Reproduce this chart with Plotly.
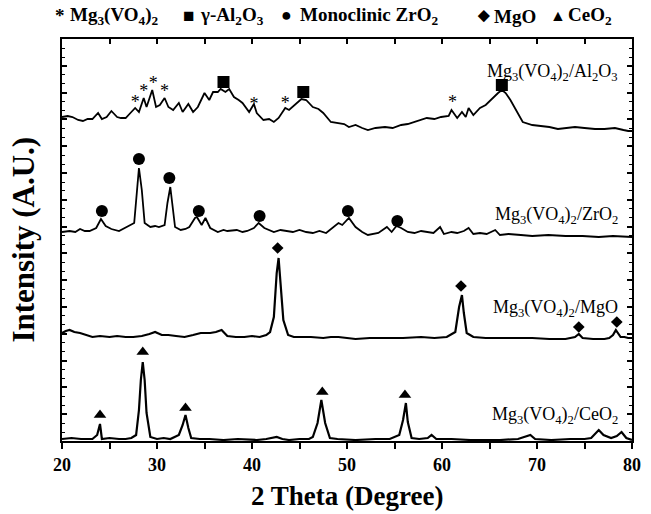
import plotly.graph_objects as go

# ---------------- data (2theta in degrees, intensity in arbitrary units) ----------------
al_x = [20.0, 20.6, 21.1, 21.7, 22.2, 22.7, 23.2, 23.8, 24.2, 24.7, 25.2, 25.8, 26.2, 26.7, 27.2, 27.7, 28.1, 28.6, 28.9,
        29.5, 29.9, 30.3, 30.8, 31.2, 31.7, 32.3, 32.7, 33.3, 33.8, 34.3, 35.0, 35.5, 35.9, 36.4, 36.7, 37.2, 37.6,
        38.1, 38.6, 39.0, 39.7, 40.2, 40.5, 41.2, 41.8, 42.3, 42.8, 43.5, 43.9, 44.5, 45.2, 45.7, 46.4, 47.0, 47.5,
        48.3, 49.1, 49.7, 50.2, 50.9, 51.6, 52.2, 53.0, 54.0, 54.8, 55.7, 56.4, 57.1, 57.8, 58.4, 59.2, 59.9, 60.7,
        61.0, 61.6, 62.1, 62.5, 62.8, 63.3, 64.0, 64.6, 65.1, 65.9, 66.3, 66.7, 67.2, 67.6, 68.1, 68.5, 69.5, 70.4,
        71.3, 72.2, 73.0, 74.0, 75.0, 76.1, 77.1, 78.2, 79.1, 79.6, 80.0]
al_y = [324, 325, 324, 321, 320, 322, 322, 328, 322, 324, 330, 324, 323, 323, 328, 333, 329, 343, 334,
        351, 334, 336, 343, 334, 331, 338, 329, 337, 329, 334, 348, 341, 349, 349, 352, 349, 352,
        344, 341, 338, 329, 337, 328, 321, 322, 319, 323, 333, 331, 336, 342, 341, 334, 332, 328,
        319, 318, 317, 314, 316, 313, 311, 313, 314, 313, 316, 317, 319, 321, 323, 322, 324, 325,
        331, 323, 329, 324, 333, 326, 333, 336, 341, 348, 351, 348, 341, 334, 326, 319, 316, 315,
        314, 312, 313, 314, 313, 312, 312, 313, 311, 310, 310]

zr_x = [20.0, 20.8, 21.4, 21.9, 22.4, 22.9, 23.6, 24.1, 24.6, 25.2, 26.0, 26.8, 27.6, 27.9, 28.1, 28.4, 28.7,
        29.3, 29.8, 30.2, 30.8, 31.1, 31.4, 31.6, 31.9, 32.5, 33.0, 33.4, 34.0, 34.2, 34.7, 35.1, 35.6, 36.4,
        37.0, 37.4, 38.4, 39.0, 39.5, 40.2, 40.7, 41.3, 42.3, 43.0, 43.6, 44.3, 45.0, 45.7, 46.4, 47.1, 47.8,
        48.6, 49.1, 49.5, 50.2, 50.9, 51.6, 52.2, 53.3, 54.2, 54.7, 55.2, 55.7, 56.4, 57.1, 57.8, 58.4, 59.1,
        59.8, 60.2, 61.0, 61.6, 62.3, 62.8, 63.3, 64.0, 64.7, 65.6, 66.1, 67.0, 68.3, 69.5, 71.2, 73.0, 74.8,
        76.5, 78.0, 79.6, 80.0]
zr_y = [209, 210, 209, 212, 210, 210, 213, 222, 215, 212, 210, 214, 218, 251, 273, 251, 218,
        214, 215, 214, 216, 238, 254, 238, 214, 211, 212, 214, 223, 224, 216, 223, 213, 209,
        211, 210, 211, 209, 210, 213, 218, 213, 209, 211, 210, 209, 211, 209, 208, 210, 208,
        214, 218, 216, 223, 214, 209, 206, 208, 214, 209, 215, 213, 209, 208, 210, 209, 208,
        214, 207, 209, 208, 210, 213, 207, 208, 207, 211, 206, 207, 206, 205, 206, 205, 205,
        204, 205, 204, 204]

mg_x = [20.0, 20.4, 20.8, 21.3, 21.9, 22.5, 23.2, 24.0, 25.0, 25.8, 26.7, 27.5, 28.4, 29.2, 29.8, 30.5, 31.2,
        32.0, 32.9, 33.8, 34.6, 35.6, 36.2, 36.8, 37.4, 38.3, 39.2, 40.0, 40.8, 41.5, 41.9, 42.3, 42.6, 42.8,
        43.0, 43.3, 43.8, 44.4, 45.0, 46.2, 47.5, 48.3, 49.1, 50.0, 50.9, 52.4, 54.0, 55.9, 57.8, 59.2, 60.5,
        61.4, 61.8, 62.1, 62.3, 62.6, 63.3, 64.6, 66.1, 67.8, 69.5, 71.3, 73.0, 74.0, 74.4, 74.8, 75.9, 77.1,
        77.6, 78.0, 78.3, 78.8, 79.2, 79.6, 80.0]
mg_y = [108, 110, 111, 109, 108, 106, 104, 105, 104, 105, 104, 104, 105, 107, 109, 106, 106,
        105, 104, 106, 108, 108, 109, 111, 105, 104, 104, 105, 104, 106, 109, 124, 168, 183,
        161, 121, 106, 104, 104, 104, 103, 104, 104, 103, 102, 103, 103, 103, 104, 103, 104,
        109, 134, 146, 128, 108, 104, 103, 103, 103, 103, 102, 102, 104, 107, 103, 102, 102,
        103, 106, 111, 104, 104, 103, 103]

ce_x = [20.0, 21.0, 22.0, 23.2, 23.7, 24.0, 24.2, 25.0, 26.0, 26.7, 27.3, 27.8, 28.1, 28.3, 28.5, 28.7, 28.9,
        29.3, 30.0, 30.7, 31.4, 32.3, 32.7, 33.0, 33.3, 33.6, 34.5, 35.5, 37.0, 38.5, 40.5, 41.5, 42.6, 43.2,
        43.9, 45.0, 46.0, 46.4, 46.9, 47.3, 47.7, 48.2, 49.0, 50.9, 53.0, 54.5, 55.5, 55.9, 56.2, 56.4, 56.8,
        57.6, 58.5, 58.9, 59.4, 61.0, 63.0, 66.1, 68.0, 68.8, 69.3, 69.8, 71.5, 73.5, 75.0, 75.7, 76.5, 77.0,
        77.8, 78.4, 78.9, 79.4, 80.0]
ce_y = [2, 3, 2, 2, 6, 17, 2, 3, 2, 2, 3, 6, 31, 61, 79, 61, 28,
        4, 2, 3, 2, 6, 16, 26, 13, 3, 2, 2, 1, 2, 1, 2, 4, 2,
        1, 2, 2, 4, 18, 41, 18, 3, 2, 1, 2, 2, 6, 21, 38, 19, 3,
        2, 3, 6, 2, 2, 1, 1, 2, 4, 6, 2, 1, 2, 2, 3, 11, 6,
        3, 5, 9, 3, 1]

# phase markers
star_x = [27.7, 28.6, 29.6, 30.8, 40.2, 43.5, 61.1]
star_y = [338, 349, 357, 349, 336, 337, 338]
sq_x = [37.0, 45.4, 66.3]
sq_y = [359, 349, 356]
circ_x = [24.2, 28.1, 31.3, 34.4, 40.8, 50.1, 55.3]
circ_y = [230, 282, 263, 230, 225, 230, 220]
dia_x = [42.7, 62.0, 74.4, 78.4]
dia_y = [193, 155, 114, 119]
tri_x = [24.0, 28.5, 33.0, 47.4, 56.1]
tri_y = [26, 89, 33, 49, 46]

sample_labels = ["Mg<sub>3</sub>(VO<sub>4</sub>)<sub>2</sub>/Al<sub>2</sub>O<sub>3</sub>",
                 "Mg<sub>3</sub>(VO<sub>4</sub>)<sub>2</sub>/ZrO<sub>2</sub>",
                 "Mg<sub>3</sub>(VO<sub>4</sub>)<sub>2</sub>/MgO",
                 "Mg<sub>3</sub>(VO<sub>4</sub>)<sub>2</sub>/CeO<sub>2</sub>"]
label_y = [369, 226, 133, 26]

legend_texts = ["Mg<sub>3</sub>(VO<sub>4</sub>)<sub>2</sub>", "γ-Al<sub>2</sub>O<sub>3</sub>",
                "Monoclinic ZrO<sub>2</sub>", "MgO", "CeO<sub>2</sub>"]
legend_text_px = [69, 201, 303, 500, 575]
legend_glyphs = ["*", "■", "●", "◆", "▲"]
legend_glyph_px = [54, 184, 283, 483, 557]
legend_glyph_size = [19, 19, 18, 15, 16]

xtick_vals = [20, 30, 40, 50, 60, 70, 80]

SERIF = "Liberation Serif"
W, H = 651, 514
ML, MR, MT, MB = 62, 10, 39, 73
PW, PH = W - ML - MR, H - MT - MB

fig = go.Figure()
for xs, ys, lw in [(al_x, al_y, 1.8), (zr_x, zr_y, 1.8), (mg_x, mg_y, 2.2), (ce_x, ce_y, 2.2)]:
    fig.add_trace(go.Scatter(x=xs, y=ys, mode="lines", line=dict(color="black", width=lw),
                             showlegend=False, hoverinfo="skip"))

fig.add_trace(go.Scatter(x=sq_x, y=sq_y, mode="markers", showlegend=False,
                         marker=dict(symbol="square", size=12, color="black", line=dict(width=0))))
fig.add_trace(go.Scatter(x=circ_x, y=circ_y, mode="markers", showlegend=False,
                         marker=dict(symbol="circle", size=12, color="black", line=dict(width=0))))
fig.add_trace(go.Scatter(x=dia_x, y=dia_y, mode="markers", showlegend=False,
                         marker=dict(symbol="diamond", size=9, color="black", line=dict(width=0))))
fig.add_trace(go.Scatter(x=tri_x, y=tri_y, mode="markers", showlegend=False,
                         marker=dict(symbol="triangle-up", size=11, color="black", line=dict(width=0))))
fig.add_trace(go.Scatter(x=star_x, y=star_y, mode="text", text=["*"] * len(star_x),
                         textposition="middle center", showlegend=False,
                         textfont=dict(family=SERIF, size=18, color="black")))
# invisible trace for the top axis
fig.add_trace(go.Scatter(x=[None], y=[None], xaxis="x2", showlegend=False, hoverinfo="skip"))

annotations = []
for txt, yv in zip(sample_labels, label_y):
    annotations.append(dict(x=78.7, y=yv, xref="x", yref="y", text=txt, showarrow=False,
                            xanchor="right", yanchor="middle",
                            font=dict(family=SERIF, size=18, color="black")))
LEG_PY = 16
for txt, px in zip(legend_texts, legend_text_px):
    annotations.append(dict(x=(px - ML) / PW, y=(H - MB - LEG_PY) / PH, xref="paper", yref="paper",
                            text=txt, showarrow=False, xanchor="left", yanchor="middle", borderpad=0,
                            font=dict(family=SERIF, size=19, color="black", weight="bold")))
for g, px, s in zip(legend_glyphs, legend_glyph_px, legend_glyph_size):
    annotations.append(dict(x=(px - ML) / PW, y=(H - MB - LEG_PY + 1) / PH, xref="paper", yref="paper",
                            text=g, showarrow=False, xanchor="left", yanchor="middle", borderpad=0,
                            font=dict(family=SERIF, size=s, color="black", weight="bold")))
annotations.append(dict(x=0.5, y=-(496 - (H - MB)) / PH, xref="paper", yref="paper", text="2 Theta (Degree)",
                        showarrow=False, xanchor="center", yanchor="middle",
                        font=dict(family=SERIF, size=27, color="black", weight="bold")))
annotations.append(dict(x=-(ML - 22) / PW, y=0.5, xref="paper", yref="paper", text="Intensity (A.U.)",
                        showarrow=False, xanchor="center", yanchor="middle", textangle=-90,
                        font=dict(family=SERIF, size=31, color="black", weight="bold")))

fig.update_layout(
    width=W, height=H,
    margin=dict(l=ML, r=MR, t=MT, b=MB),
    paper_bgcolor="white", plot_bgcolor="white",
    showlegend=False,
    annotations=annotations,
    xaxis=dict(range=[20, 80], tickvals=xtick_vals, ticks="outside", ticklen=6, tickwidth=2,
               tickcolor="black", showline=True, linewidth=2, linecolor="black", mirror=True,
               showgrid=False, zeroline=False,
               minor=dict(dtick=5, tick0=20, ticks="outside", ticklen=6, tickwidth=2, tickcolor="black"),
               tickfont=dict(family=SERIF, size=18, color="black", weight="bold")),
    xaxis2=dict(range=[20, 80], overlaying="x", side="top", tickvals=xtick_vals, ticks="inside",
                ticklen=5, tickwidth=1.5, tickcolor="black", showticklabels=False, showline=False,
                showgrid=False, zeroline=False,
                minor=dict(dtick=5, tick0=20, ticks="inside", ticklen=5, tickwidth=1.5, tickcolor="black")),
    yaxis=dict(range=[0, 402], showticklabels=False, ticks="inside", dtick=26.8, tick0=0, ticklen=5,
               tickwidth=1.5, tickcolor="black", showline=True, linewidth=2, linecolor="black",
               mirror="ticks", showgrid=False, zeroline=False,
               minor=dict(dtick=8.93, ticks="inside", ticklen=3, tickwidth=1, tickcolor="black")),
)

fig.write_html("out.html", config={"displayModeBar": False},
               post_script="document.body.style.margin='0';document.body.style.overflow='hidden';")
